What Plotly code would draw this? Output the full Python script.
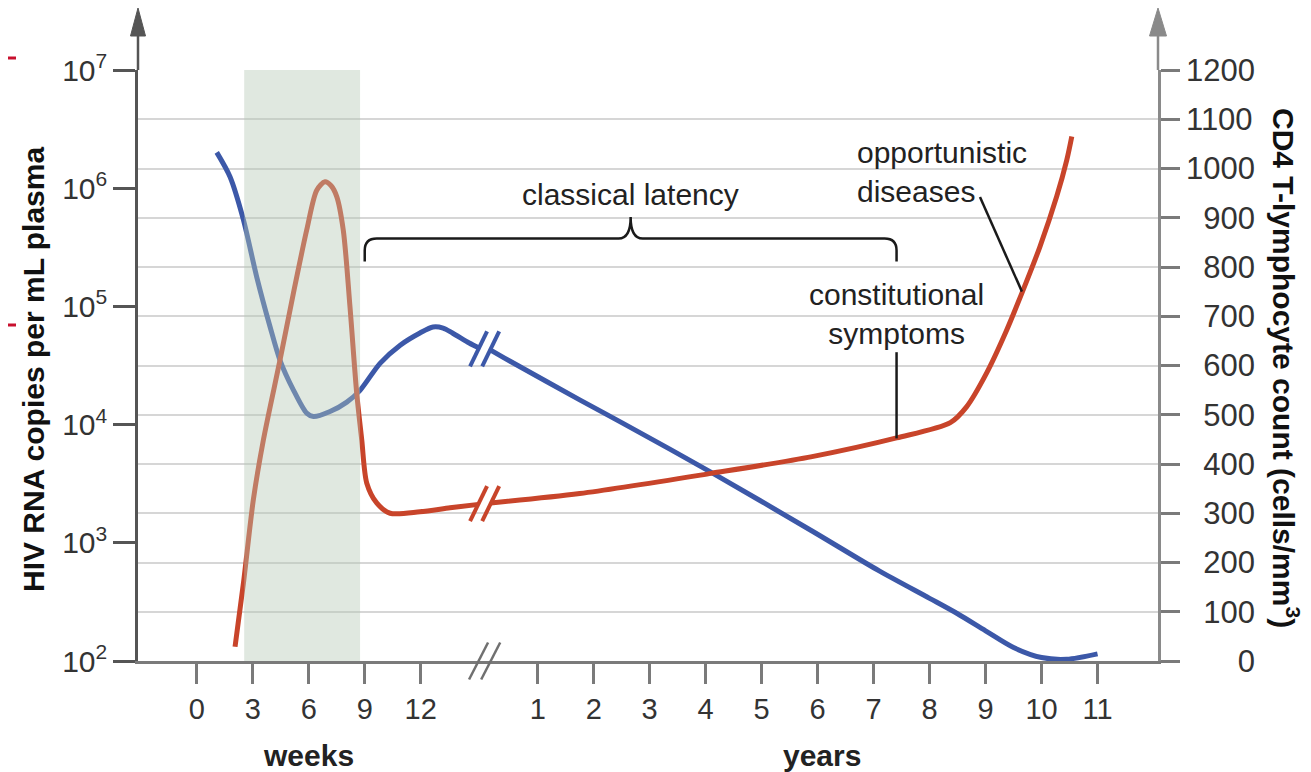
import math
import plotly.graph_objects as go

# ---------------- data ----------------
week_ticks = [0, 3, 6, 9, 12]
year_ticks = [1, 2, 3, 4, 5, 6, 7, 8, 9, 10, 11]
rna_ticks = [1e2, 1e3, 1e4, 1e5, 1e6, 1e7]
rna_tick_labels = ["10<sup>2</sup>", "10<sup>3</sup>", "10<sup>4</sup>",
                   "10<sup>5</sup>", "10<sup>6</sup>", "10<sup>7</sup>"]
cd4_ticks = [0, 100, 200, 300, 400, 500, 600, 700, 800, 900, 1000, 1100, 1200]

# HIV RNA (copies per mL plasma) - acute phase, in weeks
hiv_weeks = [1.07, 1.78, 2.50, 3.21, 3.93, 4.46, 5.18, 5.89, 6.25, 7.14, 8.04,
             8.75, 9.82, 10.9, 11.96, 12.66, 13.2, 13.7, 14.6, 15.1]
hiv_weeks_rna = [2.01e6, 1.25e6, 5.4e5, 1.78e5, 6.7e4, 3.5e4, 1.96e4, 1.25e4,
                 1.17e4, 1.29e4, 1.55e4, 1.95e4, 3.3e4, 4.7e4, 5.96e4, 6.7e4, 6.56e4,
                 5.96e4, 4.9e4, 4.47e4]
# HIV RNA - chronic phase, in years
hiv_years = [0.16, 0.5, 1.75, 2.5, 4.1, 5.9, 7.1, 8.0, 8.5, 9.0, 9.5, 10.0, 10.45, 11.0]
hiv_years_rna = [4.27e4, 3.45e4, 1.62e4, 1.04e4, 3940, 1259, 578, 339, 251, 180,
                 130, 107, 103.5, 115]

# CD4 T-lymphocyte count (cells/mm3) - weeks
cd4_weeks = [2.05, 2.50, 3.03, 3.57, 4.46, 5.18, 5.89, 6.43, 6.87, 7.2, 7.5, 7.85, 8.21,
             8.57, 8.84, 9.11, 9.64, 10.36, 11.96, 13.57, 15.1]
cd4_weeks_count = [29, 158, 327, 449, 611, 747, 875, 956, 973, 965, 943, 875, 719, 544,
                   449, 361, 321, 300, 303, 311, 318]
# CD4 - years
cd4_years = [0.16, 1.75, 4.1, 5.9, 7.41, 8.37, 8.66, 9.02, 9.37, 9.67, 9.97,
             10.27, 10.45, 10.54]
cd4_years_count = [321, 340, 381, 415, 453, 484, 516, 585, 670, 753, 841, 943,
                   1017, 1065]

# annotation anchors (in weeks / years and CD4 units)
shade_weeks = [2.54, 8.75]
latency_span = [9, 7.41]          # week 9 -> year 7.41
latency_level = 858
constitutional_year = 7.41
opportunistic_point = [9.65, 750]

# ---------------- helpers ----------------
YEAR_OFFSET = 5.09


def pw(w):
    return w / 3.0


def py(y):
    return y + YEAR_OFFSET


def log_to_y2(v):
    return (math.log10(v) - 2) / 5 * 1200


PX_X = 56.0          # px per x unit
CD4_PER_PX = 1200 / 591.0

BLUE = "#3c58a8"
RED = "#c8442a"
FONT = "Liberation Sans, Arial, sans-serif"

fig = go.Figure()

fig.add_trace(go.Scatter(x=[pw(w) for w in hiv_weeks], y=hiv_weeks_rna, yaxis="y",
                         mode="lines", line=dict(color=BLUE, width=5, shape="spline", smoothing=0.8),
                         hoverinfo="skip"))
fig.add_trace(go.Scatter(x=[py(y) for y in hiv_years], y=hiv_years_rna, yaxis="y",
                         mode="lines", line=dict(color=BLUE, width=5, shape="spline", smoothing=0.8),
                         hoverinfo="skip"))
fig.add_trace(go.Scatter(x=[pw(w) for w in cd4_weeks], y=cd4_weeks_count, yaxis="y2",
                         mode="lines", line=dict(color=RED, width=5, shape="spline", smoothing=0.8),
                         hoverinfo="skip"))
fig.add_trace(go.Scatter(x=[py(y) for y in cd4_years], y=cd4_years_count, yaxis="y2",
                         mode="lines", line=dict(color=RED, width=5, shape="spline", smoothing=0.8),
                         hoverinfo="skip"))

shapes = []
# shaded acute-phase band (drawn above, semi-transparent)
shapes.append(dict(type="rect", xref="x", yref="paper", x0=pw(shade_weeks[0]), x1=pw(shade_weeks[1]),
                   y0=0, y1=1, fillcolor="rgb(181,200,181)", opacity=0.42, line=dict(width=0),
                   layer="above"))

# break marks on curves and axis
b1 = pw(hiv_weeks[-1])
b2 = py(hiv_years[0])
hx = 8.5 / PX_X
hy = 17.5 * CD4_PER_PX
for cx in (b1, b2):
    cy = log_to_y2((hiv_weeks_rna[-1] * hiv_years_rna[0]) ** 0.5)
    shapes.append(dict(type="line", xref="x", yref="y2", x0=cx - hx, y0=cy - hy, x1=cx + hx, y1=cy + hy,
                       line=dict(color=BLUE, width=4), layer="above"))
    cy = (cd4_weeks_count[-1] + cd4_years_count[0]) / 2
    shapes.append(dict(type="line", xref="x", yref="y2", x0=cx - hx, y0=cy - hy, x1=cx + hx, y1=cy + hy,
                       line=dict(color=RED, width=4), layer="above"))
    shapes.append(dict(type="line", xref="x", yref="paper", x0=cx - 9.5 / PX_X, y0=-18.5 / 591,
                       x1=cx + 9.5 / PX_X, y1=18.5 / 591, line=dict(color="#707070", width=2.5),
                       layer="above"))

# brace for classical latency
x0 = pw(latency_span[0])
x1 = py(latency_span[1])
xm = (x0 + x1) / 2
yh = latency_level
yb = yh - 23 * CD4_PER_PX
yt = yh + 21.5 * CD4_PER_PX
rx = 12 / PX_X
ry = 12 * CD4_PER_PX
brace = (f"M {x0},{yb} L {x0},{yh - ry} Q {x0},{yh} {x0 + rx},{yh} "
         f"L {xm - rx},{yh} Q {xm},{yh} {xm},{yt} Q {xm},{yh} {xm + rx},{yh} "
         f"L {x1 - rx},{yh} Q {x1},{yh} {x1},{yh - ry} L {x1},{yb}")
shapes.append(dict(type="path", xref="x", yref="y2", path=brace,
                   line=dict(color="#1a1a1a", width=2.5)))

# leader lines
shapes.append(dict(type="line", xref="x", yref="y2", x0=py(constitutional_year), y0=627,
                   x1=py(constitutional_year), y1=452, line=dict(color="#1a1a1a", width=2.5)))
shapes.append(dict(type="line", xref="x", yref="y2", x0=py(8.9), y0=942,
                   x1=py(opportunistic_point[0]), y1=opportunistic_point[1],
                   line=dict(color="#1a1a1a", width=2.5)))

# axis extensions with arrowheads
for xp, col, hw in ((0, "#555555", 7.5 / 1020), (1, "#8a8a8a", 8.5 / 1020)):
    shapes.append(dict(type="line", xref="paper", yref="paper", x0=xp, x1=xp, y0=1, y1=(661 - 30) / 591,
                       line=dict(color=col, width=2.5)))
    shapes.append(dict(type="path", xref="paper", yref="paper",
                       path=f"M {xp - hw},{(661 - 36) / 591} L {xp},{(661 - 8) / 591} L {xp + hw},{(661 - 36) / 591} Z",
                       fillcolor=col, line=dict(color=col, width=1)))

# small red marks at left edge
for yy in (58, 325):
    shapes.append(dict(type="line", xref="paper", yref="paper", x0=-130 / 1020, x1=-122 / 1020,
                       y0=(661 - yy) / 591, y1=(661 - yy) / 591, line=dict(color="#c8102e", width=3)))


def ann(text, x, y, xref="x", yref="y2", xanchor="center", align="center", size=30,
        color="#222", angle=0):
    return dict(text=text, x=x, y=y, xref=xref, yref=yref, xanchor=xanchor, yanchor="middle",
                align=align, showarrow=False, textangle=angle,
                font=dict(size=size, color=color, family=FONT))


annotations = [
    ann("classical latency", xm, (661 - 194.5) * CD4_PER_PX),
    ann("opportunistic<br>diseases", py(6.67), (661 - 171.5) * CD4_PER_PX, xanchor="left", align="left"),
    ann("constitutional<br>symptoms", py(constitutional_year), (661 - 313.5) * CD4_PER_PX),
    ann("<b>weeks</b>", (308 - 138) / 1020, (661 - 755) / 591, xref="paper", yref="paper"),
    ann("<b>years</b>", (822 - 138) / 1020, (661 - 755) / 591, xref="paper", yref="paper"),
    ann("<b>HIV RNA copies per mL plasma</b>", (33 - 138) / 1020, (661 - 370) / 591,
        xref="paper", yref="paper", color="#111", angle=-90),
    ann("<b>CD4 T-lymphocyte count (cells/mm<sup>3</sup>)</b>", (1286 - 138) / 1020, (661 - 368) / 591,
        xref="paper", yref="paper", color="#111", angle=90),
]

tickvals_x = [pw(w) for w in week_ticks] + [py(y) for y in year_ticks]
ticktext_x = [str(w) for w in week_ticks] + [str(y) for y in year_ticks]
cd4_labels = [f"{v:>4d}".replace(" ", "\u2007") for v in cd4_ticks]

fig.update_layout(
    width=1303, height=764,
    margin=dict(l=130, r=153, t=62, b=111),
    paper_bgcolor="white", plot_bgcolor="white",
    showlegend=False,
    font=dict(family=FONT, size=29, color="#333"),
    xaxis=dict(range=[-1.05, 17.17], tickvals=tickvals_x, ticktext=ticktext_x,
               showline=True, linecolor="#7a7a7a", linewidth=2.5, ticks="outside", ticklen=20,
               tickwidth=2.5, tickcolor="#7a7a7a", showgrid=False, zeroline=False,
               tickfont=dict(size=29, color="#333", family=FONT)),
    yaxis=dict(type="log", range=[2, 7], tickvals=rna_ticks, ticktext=rna_tick_labels,
               showline=True, linecolor="#555555", linewidth=2.5, ticks="outside", ticklen=22,
               tickwidth=2.5, tickcolor="#555555", showgrid=False, zeroline=False,
               tickfont=dict(size=30, color="#333", family=FONT)),
    yaxis2=dict(overlaying="y", side="right", range=[0, 1200], tickvals=cd4_ticks, ticktext=cd4_labels,
                showgrid=True, gridcolor="#d6d6d6", gridwidth=2, showline=True, linecolor="#8a8a8a",
                linewidth=2.5, ticks="outside", ticklen=19, tickwidth=2.5, tickcolor="#7a7a7a",
                zeroline=False, tickfont=dict(size=31, color="#333", family=FONT)),
    shapes=shapes,
    annotations=annotations,
)

fig.write_html("out.html")
